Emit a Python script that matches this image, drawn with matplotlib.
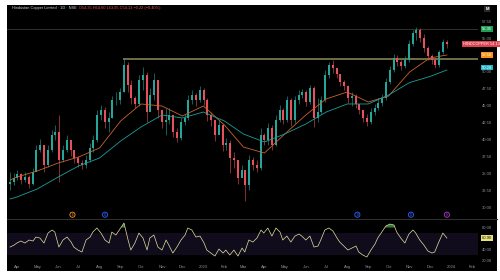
import matplotlib
matplotlib.use("Agg")
import matplotlib.pyplot as plt
import matplotlib.transforms as mtransforms
from matplotlib.patches import Rectangle
from matplotlib.lines import Line2D
import numpy as np
import pandas as pd

plt.rcParams['font.family'] = ['Liberation Sans', 'DejaVu Sans']

# candles, one every 4 sessions
dates = pd.date_range('2022-03-22', periods=116, freq='4B')
first_open = 33.41
close = [33.70, 34.30, 34.89, 34.00, 34.44, 33.41, 35.18, 38.44, 39.18, 36.22,
         38.44, 40.66, 41.10, 36.96, 38.44, 39.92, 38.44, 37.26, 36.52, 36.22,
         36.96, 38.74, 39.92, 43.62, 44.36, 42.58, 43.18, 45.84, 45.84, 47.02,
         51.02, 48.06, 46.14, 45.25, 48.80, 49.54, 44.06, 46.58, 48.80, 44.36,
         42.58, 42.88, 43.62, 41.10, 40.22, 42.58, 43.18, 45.84, 46.58, 45.84,
         47.32, 45.84, 43.62, 42.88, 40.66, 42.14, 39.18, 39.48, 37.26, 36.96,
         34.30, 35.48, 33.26, 36.96, 36.22, 35.78, 40.66, 39.92, 41.70, 39.18,
         42.88, 44.36, 42.88, 45.84, 42.88, 45.84, 46.58, 47.02, 45.54, 47.62,
         43.18, 44.06, 45.84, 49.54, 51.02, 50.58, 49.69, 48.50, 47.91, 46.14,
         46.43, 45.25, 44.36, 43.18, 42.58, 44.06, 44.66, 45.40, 46.14, 48.50,
         50.28, 52.06, 51.46, 50.87, 51.76, 54.13, 55.76, 56.20, 55.02, 53.54,
         52.35, 51.76, 51.02, 52.94, 54.42, 54.13]
high = [35.18, 35.04, 35.48, 35.04, 35.18, 34.74, 35.78, 39.18, 40.07, 38.74,
        39.18, 41.40, 42.14, 43.62, 39.18, 40.66, 39.92, 38.44, 37.55, 36.96,
        37.70, 39.48, 40.66, 44.36, 45.10, 44.80, 44.06, 46.43, 47.02, 47.62,
        52.06, 51.46, 48.80, 46.43, 49.54, 50.72, 49.98, 47.62, 49.84, 48.50,
        44.36, 44.66, 44.66, 43.62, 41.70, 43.18, 43.77, 46.58, 47.32, 46.88,
        47.91, 47.62, 46.14, 44.06, 42.58, 42.88, 42.29, 40.22, 39.92, 38.14,
        36.22, 36.22, 35.18, 37.70, 37.40, 36.96, 41.70, 40.96, 42.44, 42.14,
        43.62, 45.10, 44.66, 46.43, 46.14, 46.43, 47.32, 47.47, 47.32, 48.06,
        47.91, 46.14, 46.43, 50.28, 51.46, 51.76, 50.58, 49.39, 48.80, 48.06,
        47.02, 46.73, 45.25, 44.36, 43.77, 44.66, 45.25, 46.14, 46.73, 49.10,
        50.87, 52.65, 52.50, 51.76, 52.35, 54.72, 56.20, 56.64, 56.50, 55.61,
        53.83, 52.65, 52.06, 53.24, 54.87, 54.72]
low = [32.52, 33.26, 34.00, 33.41, 33.70, 32.82, 33.26, 35.48, 38.14, 35.18,
       35.92, 38.14, 39.92, 33.70, 36.66, 38.14, 37.55, 36.52, 35.92, 35.63,
       35.78, 36.66, 38.14, 39.62, 42.88, 41.70, 41.10, 43.18, 45.10, 45.25,
       47.02, 47.02, 45.25, 44.66, 44.95, 47.32, 42.58, 44.66, 45.84, 43.18,
       41.70, 40.66, 42.29, 40.36, 39.62, 39.92, 42.14, 42.88, 45.25, 44.95,
       45.54, 45.10, 42.73, 41.99, 39.77, 40.96, 38.29, 38.44, 35.04, 35.78,
       33.41, 34.59, 30.89, 32.52, 35.48, 35.18, 35.48, 39.18, 39.18, 38.44,
       39.03, 42.58, 42.29, 42.58, 41.99, 42.44, 45.25, 46.14, 44.95, 45.25,
       41.84, 42.58, 43.77, 45.54, 49.10, 49.84, 49.10, 47.91, 47.32, 45.40,
       44.95, 44.66, 43.77, 42.58, 41.99, 42.29, 43.62, 44.36, 44.95, 45.84,
       48.21, 49.98, 50.87, 50.28, 50.58, 51.46, 53.83, 54.72, 54.42, 52.94,
       51.76, 51.17, 50.58, 50.72, 52.65, 53.54]
rsi = [44.5, 48.2, 51.8, 55.5, 51.8, 57.3, 55.5, 62.7, 60.9, 51.8,
       70.0, 75.5, 71.8, 44.5, 57.3, 62.7, 53.6, 44.5, 39.1, 35.5,
       57.3, 62.7, 71.8, 79.1, 70.0, 57.3, 51.8, 71.8, 66.4, 77.3,
       88.2, 57.3, 39.1, 51.8, 70.0, 60.9, 39.1, 60.9, 66.4, 44.5,
       39.1, 57.3, 48.2, 33.6, 44.5, 57.3, 66.4, 79.1, 75.5, 62.7,
       64.5, 51.8, 39.1, 33.6, 28.2, 40.9, 33.6, 39.1, 30.0, 39.1,
       28.2, 42.7, 35.5, 57.3, 53.6, 60.9, 75.5, 70.0, 79.1, 64.5,
       79.1, 71.8, 57.3, 64.5, 53.6, 64.5, 68.2, 64.5, 57.3, 64.5,
       44.5, 46.4, 57.3, 75.5, 79.1, 73.6, 60.9, 53.6, 46.4, 39.1,
       42.7, 46.4, 35.5, 30.0, 26.4, 39.1, 50.0, 60.9, 71.8, 82.7,
       86.4, 84.5, 71.8, 60.9, 51.8, 68.2, 75.5, 70.0, 57.3, 48.2,
       37.3, 33.6, 35.5, 53.6, 70.0, 60.9]

# moving averages read at month starts
ma_dates = pd.to_datetime(['2022-03-22', '2022-04-01', '2022-05-01', '2022-06-01',
                           '2022-07-01', '2022-08-01', '2022-09-01', '2022-10-01',
                           '2022-11-01', '2022-12-01', '2023-01-01', '2023-02-01',
                           '2023-03-01', '2023-04-01', '2023-05-01', '2023-06-01',
                           '2023-07-01', '2023-08-01', '2023-09-01', '2023-10-01',
                           '2023-11-01', '2023-12-01', '2023-12-26'])
ema_fast = [34.00, 34.44, 35.33, 36.52, 37.40, 38.74, 42.73, 45.25, 44.95, 43.47,
            44.95, 42.14, 38.88, 37.99, 40.81, 43.62, 45.99, 47.02, 45.54, 46.43,
            49.98, 52.06, 52.50]
ema_slow = [31.19, 31.48, 32.67, 34.44, 36.07, 37.26, 39.77, 41.84, 43.62, 43.18,
            44.06, 42.73, 40.81, 39.62, 40.81, 42.29, 44.06, 45.25, 45.25, 46.58,
            48.42, 49.32, 50.28]

level_top = 56.35
level_res = 51.98
res_start = '2022-09-05'

event_dates = pd.to_datetime(['2022-06-22', '2022-08-09', '2023-08-16', '2023-11-03', '2023-12-26'])
event_cols = ['#f7931a', '#2962ff', '#2962ff', '#2962ff', '#b039c9']
event_txt = ['E', 'D', 'D', 'D', 'S']

price_ticks = [30.0, 32.5, 35.0, 37.5, 40.0, 42.5, 45.0, 47.5, 50.0, 52.5, 55.0, 57.5]
rsi_ticks = [20, 40, 60, 80]

x0 = pd.Timestamp('2022-03-17 12:00')
x1 = pd.Timestamp('2024-02-09 20:00')

fig = plt.figure(figsize=(5, 2.8), dpi=100, facecolor='white')
fig.patches.append(Rectangle((0.014, 0.032), 0.98, 0.95, transform=fig.transFigure,
                             facecolor='black', edgecolor='none', zorder=-1))

ax = fig.add_axes([0.014, 0.2179, 0.942, 0.7643], facecolor='black')
ax2 = fig.add_axes([0.014, 0.0607, 0.942, 0.1571], facecolor='black', sharex=ax)
for a in (ax, ax2):
    for s in a.spines.values():
        s.set_visible(False)
    a.yaxis.tick_right()
    a.tick_params(axis='y', length=0, labelsize=3, colors='#8f939c', pad=2.5)

# candles
c = np.array(close)
o = np.r_[first_open, c[:-1]]
cols = np.where(c >= o, '#26a69a', '#e8505e')
ax.vlines(dates, low, high, colors=cols, lw=0.4, zorder=2)
ax.bar(dates, np.maximum(np.abs(c - o), 0.06), bottom=np.minimum(o, c), width=2.7,
       color=cols, linewidth=0, zorder=3)

ax.plot(ma_dates, ema_fast, color='#c8642a', lw=0.6, zorder=4)
ax.plot(ma_dates, ema_slow, color='#1c9f9b', lw=0.6, zorder=4)
ax.axhline(level_top, color='#3b3a30', lw=0.6, zorder=1)
ax.hlines(level_res, pd.Timestamp(res_start), x1, color='#8f8c5c', lw=1.1, zorder=1)

ax.set_xlim(x0, x1)
ax.set_ylim(28.23, 59.90)
ax.set_yticks(price_ticks)
ax.set_yticklabels(['%.2f' % v for v in price_ticks])
ax.tick_params(axis='x', bottom=False, labelbottom=False)

# right price scale labels
tr = mtransforms.blended_transform_factory(ax.transAxes, ax.transData)
def tag(axis, trans, y, txt, bg, fg='white', xf=1.019, pad=0.2, size=3):
    axis.text(xf, y, txt, transform=trans, ha='center', va='center', fontsize=size,
              color=fg, zorder=10, clip_on=False,
              bbox=dict(boxstyle='square,pad=%s' % pad, fc=bg, ec='none'))

tag(ax, tr, level_top, '%.2f' % level_top, '#1f9d55')
tag(ax, tr, close[-1], 'HINDCOPPER %.2f' % close[-1], '#e0404f', xf=1.007, size=2.8)
tag(ax, tr, ema_fast[-1], '%.2f' % ema_fast[-1], '#f7931a')
tag(ax, tr, ema_slow[-1] + 0.3, '%.2f' % ema_slow[-1], '#1fb8c8', pad=0.12)

# events
xt = ax.get_xaxis_transform()
ax.scatter(event_dates, [0.02] * len(event_dates), transform=xt, s=14,
           facecolors='#0a0a14', edgecolors=event_cols, linewidths=0.6,
           zorder=6, clip_on=False)
for d, t, col in zip(event_dates, event_txt, event_cols):
    ax.text(d, 0.02, t, transform=xt, fontsize=2, color=col, ha='center',
            va='center', zorder=7, clip_on=False)

# RSI pane
r = np.array(rsi)
ax2.axhspan(30, 70, color='#6a4fb0', alpha=0.16, lw=0)
ax2.fill_between(dates, 80, r, where=r > 80, color='#4caf50', alpha=0.7, lw=0,
                 interpolate=True)
ax2.plot(dates, r, color='#e4e0a0', lw=0.5)
ax2.set_ylim(15.5, 95.5)
ax2.set_yticks(rsi_ticks)
ax2.set_yticklabels(['%.2f' % v for v in rsi_ticks])
tr2 = mtransforms.blended_transform_factory(ax2.transAxes, ax2.transData)
tag(ax2, tr2, rsi[-1], '%.2f' % rsi[-1], '#e8e27a', fg='#111111')

months = pd.date_range('2022-04-01', '2024-02-01', freq='MS')
ax2.set_xticks(months)
ax2.set_xticklabels([str(m.year) if m.month == 1 else m.strftime('%b') for m in months])
ax2.tick_params(axis='x', length=0, labelsize=3, colors='#8f939c', pad=1.5)

fig.add_artist(Line2D([0.014, 0.994], [0.2179, 0.2179], transform=fig.transFigure,
                      color='#2e2e2e', lw=0.8))

fig.text(12 / 500, 1 - 8 / 280, 'Hindustan Copper Limited \u00b7 1D \u00b7 NSE',
         fontsize=2.8, color='#d1d4dc', va='center')
fig.text(79 / 500, 1 - 8 / 280, 'O54.35 H54.60 L53.95 C54.13 \u22120.22 (\u22120.40%)',
         fontsize=2.8, color='#ef5350', va='center')
fig.text(487 / 500, 1 - 9 / 280, 'M', fontsize=3, color='white', ha='center',
         va='center', fontweight='bold',
         bbox=dict(boxstyle='square,pad=0.3', fc='#2a2a2a', ec='none'))

fig.savefig('out.png', dpi=100, facecolor=fig.get_facecolor())
